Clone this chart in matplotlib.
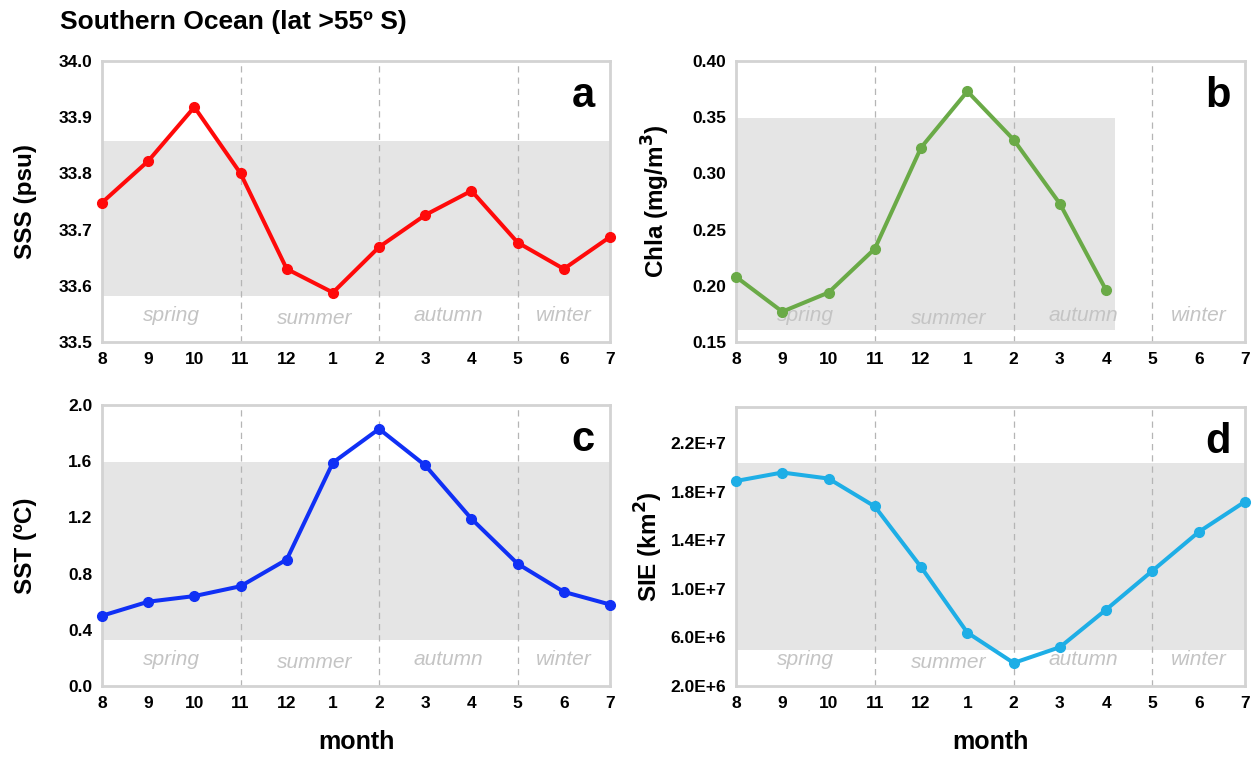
import matplotlib
matplotlib.use("Agg")
import matplotlib.pyplot as plt
import matplotlib.transforms as mtransforms

plt.rcParams['font.family'] = ['Liberation Sans', 'DejaVu Sans']

months = ["8", "9", "10", "11", "12", "1", "2", "3", "4", "5", "6", "7"]
seasons = ["spring", "summer", "autumn", "winter"]

sss = [33.748, 33.822, 33.918, 33.800, 33.630, 33.588, 33.669, 33.726, 33.769, 33.677, 33.630, 33.687]
chla = [0.208, 0.177, 0.194, 0.233, 0.323, 0.373, 0.330, 0.273, 0.196]
sst = [0.50, 0.60, 0.64, 0.71, 0.90, 1.59, 1.83, 1.57, 1.19, 0.87, 0.67, 0.58]
sie = [18.9e6, 19.6e6, 19.1e6, 16.8e6, 11.8e6, 6.4e6, 3.9e6, 5.2e6, 8.3e6, 11.5e6, 14.7e6, 17.2e6]

sss_band = (33.581, 33.857)
chla_band = (0.161, 0.349)
sst_band = (0.33, 1.595)
sie_band = (4.96e6, 20.4e6)

sss_ticks = [33.5, 33.6, 33.7, 33.8, 33.9, 34.0]
chla_ticks = [0.15, 0.20, 0.25, 0.30, 0.35, 0.40]
sst_ticks = [0.0, 0.4, 0.8, 1.2, 1.6, 2.0]
sie_ticks = [2e6, 6e6, 10e6, 14e6, 18e6, 22e6]
sie_ticklabels = ["2.0E+6", "6.0E+6", "1.0E+7", "1.4E+7", "1.8E+7", "2.2E+7"]

fig = plt.figure(figsize=(12.56, 7.57), dpi=100)

W, H = 1256, 757
def ax_at(x0, x1, y0, y1):
    return fig.add_axes([x0 / W, 1 - y1 / H, (x1 - x0) / W, (y1 - y0) / H])

ax_a = ax_at(102, 610, 61, 342)
ax_b = ax_at(736, 1245, 61, 342)
ax_c = ax_at(102, 610, 405, 686)
ax_d = ax_at(736, 1245, 407, 686)

season_x = [1.5, 4.6, 7.5, 10.0]
season_y = [0.095, 0.085, 0.095, 0.095]

def style(ax, vals, color, band, band_x1, ylim, yticks, yticklabels, ylabel, ylab_x, letter, xlabel=False):
    x = list(range(len(vals)))
    ax.set_xlim(0, 11)
    ax.set_ylim(*ylim)
    ax.fill_between([0, band_x1], band[0], band[1], color='#e5e5e5', lw=0, zorder=0)
    for xv in (3, 6, 9):
        ax.axvline(xv, color='#b5b5b5', lw=0.9, ls=(0, (5, 4)), zorder=1)
    trans = mtransforms.blended_transform_factory(ax.transData, ax.transAxes)
    for sx, sy, s in zip(season_x, season_y, seasons):
        ax.text(sx, sy, s, transform=trans, ha='center', va='center',
                fontsize=15, style='italic', color='#c4c4c4', zorder=2)
    ax.plot(x, vals, color=color, lw=2.9, marker='o', ms=7, zorder=3, clip_on=False)
    ax.set_xticks(range(12))
    ax.set_xticklabels(months)
    ax.set_yticks(yticks)
    ax.set_yticklabels(yticklabels)
    for lab in ax.get_xticklabels() + ax.get_yticklabels():
        lab.set_fontweight('bold')
        lab.set_fontsize(12.5)
    ax.tick_params(axis='both', length=0, pad=7)
    for sp in ax.spines.values():
        sp.set_color('#d3d3d3')
        sp.set_linewidth(2)
    ax.set_ylabel(ylabel, fontsize=17.5, fontweight='bold')
    ax.yaxis.set_label_coords(ylab_x, 0.5)
    if xlabel:
        ax.set_xlabel("month", fontsize=18, fontweight='bold', labelpad=14)
    ax.text(0.947, 0.875, letter, transform=ax.transAxes, ha='center', va='center',
            fontsize=30, fontweight='bold', color='black')

style(ax_a, sss, '#ff0a0a', sss_band, 11, (33.5, 34.0), sss_ticks,
      [f"{v:.1f}" for v in sss_ticks], "SSS (psu)", -0.128, "a")
style(ax_b, chla, '#6aaa47', chla_band, 8.2, (0.15, 0.40), chla_ticks,
      [f"{v:.2f}" for v in chla_ticks], "Chla (mg/m$^\\mathbf{3}$)", -0.126, "b")
style(ax_c, sst, '#1030f5', sst_band, 11, (0.0, 2.0), sst_ticks,
      [f"{v:.1f}" for v in sst_ticks], "SST (ºC)", -0.128, "c", xlabel=True)
style(ax_d, sie, '#1eaee6', sie_band, 11, (2e6, 25e6), sie_ticks,
      sie_ticklabels, "SIE (km$^\\mathbf{2}$)", -0.14, "d", xlabel=True)

fig.text(60 / W, 1 - 22 / H, "Southern Ocean (lat >55º S)", fontsize=19,
         fontweight='bold', ha='left', va='center')

fig.savefig("out.png", dpi=100)
